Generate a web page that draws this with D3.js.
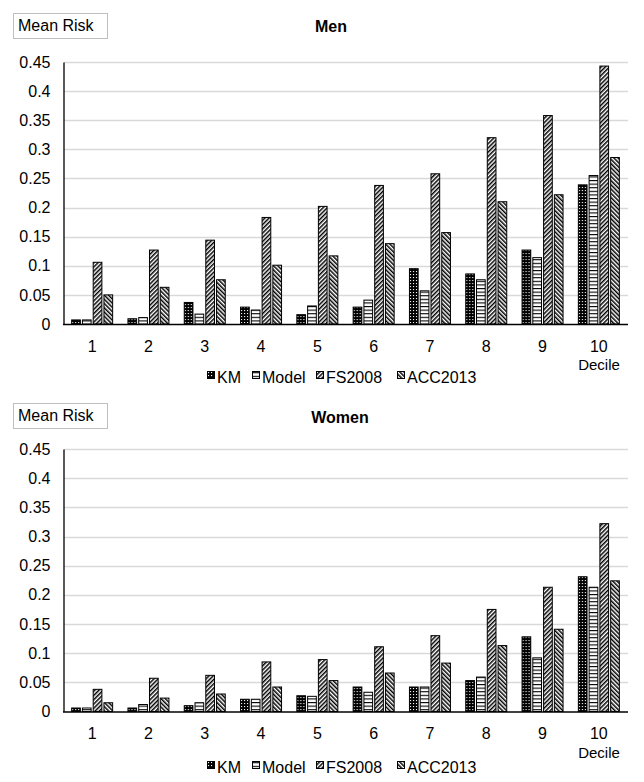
<!DOCTYPE html>
<html><head><meta charset="utf-8">
<script src="https://cdn.jsdelivr.net/npm/d3@7"></script>
<style>body{margin:0;background:#fff}svg{display:block;font-family:"Liberation Sans",Arial,sans-serif}</style>
</head><body><svg id="c" width="644" height="782"></svg>
<script>
const deciles = ["1","2","3","4","5","6","7","8","9","10"];
const seriesNames = ["KM","Model","FS2008","ACC2013"];
const yTicks = [0,0.05,0.1,0.15,0.2,0.25,0.3,0.35,0.4,0.45];
const yTickLabels = ["0","0.05","0.1","0.15","0.2","0.25","0.3","0.35","0.4","0.45"];
// Men
const menKM     = [0.007,0.009,0.037,0.029,0.016,0.029,0.095,0.086,0.127,0.239];
const menModel  = [0.007,0.011,0.017,0.024,0.031,0.041,0.057,0.076,0.114,0.255];
const menFS     = [0.106,0.127,0.144,0.183,0.202,0.238,0.258,0.320,0.358,0.443];
const menACC    = [0.050,0.063,0.076,0.101,0.117,0.138,0.157,0.210,0.222,0.286];
// Women
const womenKM    = [0.006,0.006,0.010,0.021,0.027,0.042,0.042,0.053,0.128,0.231];
const womenModel = [0.006,0.012,0.015,0.021,0.026,0.033,0.042,0.059,0.092,0.213];
const womenFS    = [0.038,0.057,0.062,0.085,0.089,0.111,0.130,0.175,0.213,0.322];
const womenACC   = [0.015,0.023,0.030,0.042,0.053,0.066,0.083,0.113,0.141,0.224];

const svg = d3.select("#c");
const defs = svg.append("defs");
let p = defs.append("pattern").attr("id","pKM").attr("patternUnits","userSpaceOnUse").attr("width",3).attr("height",3);
p.append("rect").attr("width",3).attr("height",3).attr("fill","#000");
p.append("rect").attr("x",1).attr("y",1).attr("width",1.1).attr("height",1.1).attr("fill","#fff");
p = defs.append("pattern").attr("id","pModel").attr("patternUnits","userSpaceOnUse").attr("width",4).attr("height",3.6);
p.append("rect").attr("width",4).attr("height",3.6).attr("fill","#fff");
p.append("rect").attr("y",0).attr("width",4).attr("height",1.1).attr("fill","#000");
p = defs.append("pattern").attr("id","pFS").attr("patternUnits","userSpaceOnUse").attr("width",3).attr("height",3).attr("patternTransform","rotate(45)");
p.append("rect").attr("width",3).attr("height",3).attr("fill","#fff");
p.append("rect").attr("width",1.5).attr("height",3).attr("fill","#000");
p = defs.append("pattern").attr("id","pACC").attr("patternUnits","userSpaceOnUse").attr("width",3).attr("height",3).attr("patternTransform","rotate(-45)");
p.append("rect").attr("width",3).attr("height",3).attr("fill","#fff");
p.append("rect").attr("width",1.5).attr("height",3).attr("fill","#000");
const fills = {"KM":"url(#pKM)","Model":"url(#pModel)","FS2008":"url(#pFS)","ACC2013":"url(#pACC)"};

function panel(cfg){
  const g = svg.append("g");
  const x0 = d3.scaleBand().domain(deciles).range([64,627]).paddingInner(0.254).paddingOuter(0.127);
  const x1 = d3.scaleBand().domain(seriesNames).range([0,x0.bandwidth()]).paddingInner(0.1);
  const y = d3.scaleLinear().domain([0,0.45]).range([cfg.y0, cfg.y45]);
  g.append("g").selectAll("line").data(yTicks.slice(1)).join("line")
    .attr("x1",64).attr("x2",628).attr("y1",d=>Math.round(y(d))+0.5).attr("y2",d=>Math.round(y(d))+0.5)
    .attr("stroke","#d9d9d9").attr("stroke-width",1.3);
  const ya = g.append("g").attr("transform","translate(63.5,0)")
    .call(d3.axisLeft(y).tickValues(yTicks).tickFormat((d,i)=>yTickLabels[i]).tickSize(0).tickPadding(13));
  ya.select(".domain").attr("stroke","#000").attr("stroke-width",1.3);
  ya.selectAll("text").attr("font-size",16).attr("font-family","Liberation Sans, Arial").attr("fill","#000");
  const rows = seriesNames.map((s,i)=>({s, vals: cfg.data[i]}));
  const groups = g.append("g").selectAll("g").data(deciles).join("g").attr("transform",d=>`translate(${x0(d)},0)`);
  groups.selectAll("rect").data((d,di)=>rows.map(r=>({s:r.s, v:r.vals[di]}))).join("rect")
    .attr("x",d=>x1(d.s)+0.5).attr("width",x1.bandwidth()-1)
    .attr("y",d=>y(d.v)).attr("height",d=>y(0)-y(d.v))
    .attr("fill",d=>fills[d.s]).attr("stroke","#000").attr("stroke-width",1);
  const xa = g.append("g").attr("transform",`translate(0,${cfg.y0+0.5})`)
    .call(d3.axisBottom(x0).tickSize(0).tickPadding(16));
  xa.select(".domain").attr("stroke","#000").attr("stroke-width",1.3).attr("d",`M63,0H628`);
  xa.selectAll("text").attr("font-size",16).attr("font-family","Liberation Sans, Arial").attr("fill","#000");
  g.append("text").attr("x",599).attr("y",cfg.y0+46).attr("text-anchor","middle").attr("font-size",15).text("Decile");
  g.append("text").attr("x",cfg.titleX).attr("y",cfg.titleY).attr("text-anchor","middle").attr("font-size",16).attr("font-weight","bold").text(cfg.title);
  g.append("rect").attr("x",cfg.boxX+0.5).attr("y",cfg.boxY+0.5).attr("width",94).attr("height",25).attr("fill","#fff").attr("stroke","#bfbfbf");
  g.append("text").attr("x",cfg.boxX+5).attr("y",cfg.boxY+18).attr("font-size",16).text("Mean Risk");
  const lx = [207,252,316,397];
  const lg = g.append("g").selectAll("g").data(seriesNames).join("g").attr("transform",(d,i)=>`translate(${lx[i]},${cfg.legY})`);
  lg.append("rect").attr("x",0.5).attr("y",-11.5).attr("width",7).attr("height",7).attr("fill",d=>fills[d]).attr("stroke","#000");
  lg.append("text").attr("x",10).attr("y",0).attr("font-size",16).text(d=>d);
}

panel({data:[menKM,menModel,menFS,menACC], y0:324, y45:62, title:"Men", titleX:331, titleY:32, boxX:13, boxY:13, legY:383});
panel({data:[womenKM,womenModel,womenFS,womenACC], y0:711.5, y45:449, title:"Women", titleX:340, titleY:423, boxX:13, boxY:403, legY:773});
</script></body></html>
